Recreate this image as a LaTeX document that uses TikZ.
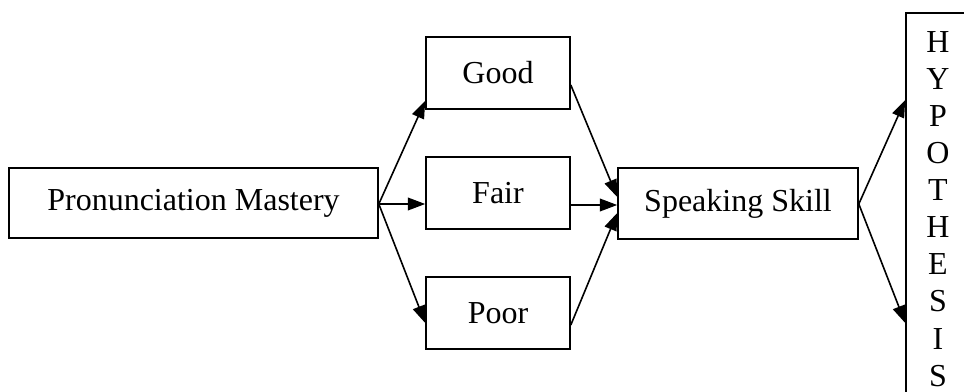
\documentclass[tikz,border=0pt]{standalone}
\usepackage{fontspec}
\setmainfont{Liberation Serif}
\usetikzlibrary{arrows.meta}
\begin{document}
\begin{tikzpicture}[x=0.75pt,y=-0.75pt,
  box/.style={draw,line width=1.2pt,rectangle,inner sep=0pt,font=\fontsize{24}{27.8}\selectfont},
  arr/.style={line width=1.2pt,-{Triangle[length=13pt,width=9.5pt]}}]
\useasboundingbox (0,0) rectangle (964,392);
\clip (0,0) rectangle (964,392);
\node[box,minimum width=369*0.75pt,minimum height=70*0.75pt] (pm) at (193.5,203) {Pronunciation Mastery};
\node[box,minimum width=144*0.75pt,minimum height=72*0.75pt] (good) at (498,73) {Good};
\node[box,minimum width=144*0.75pt,minimum height=72*0.75pt] (fair) at (498,193) {Fair};
\node[box,minimum width=144*0.75pt,minimum height=72*0.75pt] (poor) at (498,313) {Poor};
\node[box,minimum width=240*0.75pt,minimum height=71*0.75pt] (ss) at (738,203.5) {Speaking Skill};
\node[box,minimum width=64*0.75pt,minimum height=392*0.75pt,align=center] (hyp) at (938,209)
  {H\\Y\\P\\O\\T\\H\\E\\S\\I\\S};
\coordinate (pmo) at (pm.east |- 0,204);
\coordinate (goodin) at (good.west |- 0,101);
\coordinate (fairin) at (fair.west |- 0,204);
\coordinate (poorin) at (poor.west |- 0,323);
\coordinate (goodout) at (good.east |- 0,85);
\coordinate (fairout) at (fair.east |- 0,205);
\coordinate (poorout) at (poor.east |- 0,325);
\coordinate (ssin1) at (ss.west |- 0,197);
\coordinate (ssin2) at (ss.west |- 0,205);
\coordinate (ssin3) at (ss.west |- 0,213);
\coordinate (sso) at (ss.east |- 0,204);
\coordinate (hypin1) at (hyp.west |- 0,100);
\coordinate (hypin2) at (hyp.west |- 0,323);
\draw[arr] (pmo) -- (goodin);
\draw[arr] (pmo) -- (fairin);
\draw[arr] (pmo) -- (poorin);
\draw[arr] (goodout) -- (ssin1);
\draw[arr] (fairout) -- (ssin2);
\draw[arr] (poorout) -- (ssin3);
\draw[arr] (sso) -- (hypin1);
\draw[arr] (sso) -- (hypin2);
\end{tikzpicture}
\end{document}
